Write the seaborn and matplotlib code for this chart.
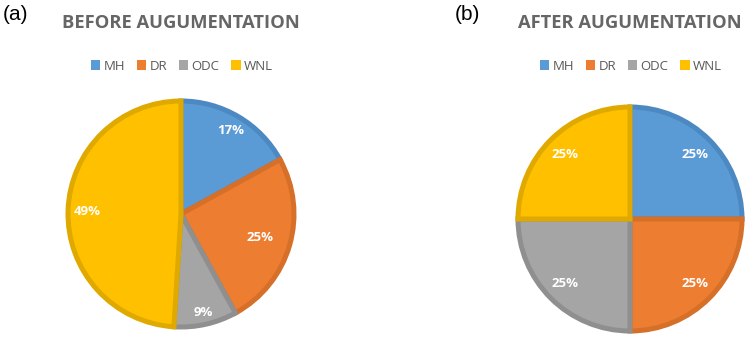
import numpy as np
import matplotlib
matplotlib.use("Agg")
import matplotlib.pyplot as plt
from matplotlib.patches import Patch
import seaborn as sns

classes = ["MH", "DR", "ODC", "WNL"]
before = [17, 25, 9, 49]
after = [25, 25, 25, 25]
titles = ["BEFORE AUGUMENTATION", "AFTER AUGUMENTATION"]
panel_tags = ["(a)", "(b)"]

sns.set_theme(style="white")
plt.rcParams["font.family"] = ["Open Sans", "DejaVu Sans"]

fill = sns.color_palette(["#5B9BD5", "#ED7D31", "#A5A5A5", "#FFC000"])
edge = sns.color_palette(["#4C88C2", "#D66F28", "#8F8F8F", "#E0A900"])

W, H = 747, 337
fig = plt.figure(figsize=(W / 100, H / 100), dpi=100)

lim = 1.04
# pie centre (px), radius (px), label distances per wedge
panels = [
    dict(vals=before, cx=181, cy=214, r=113, dist=[0.86, 0.73, 0.89, 0.83], tagx=3, legx=182),
    dict(vals=after, cx=630, cy=219, r=112, dist=[0.82, 0.82, 0.82, 0.82], tagx=455, legx=631),
]

for i, p in enumerate(panels):
    half = p["r"] * lim
    ax = fig.add_axes([(p["cx"] - half) / W, (H - p["cy"] - half) / H, 2 * half / W, 2 * half / H])
    wedges, _ = ax.pie(p["vals"], colors=fill, startangle=90, counterclock=False,
                       wedgeprops=dict(linewidth=3.6))
    for w, c in zip(wedges, edge):
        w.set_edgecolor(c)
    for w, v, d in zip(wedges, p["vals"], p["dist"]):
        ang = np.deg2rad((w.theta1 + w.theta2) / 2)
        ax.text(d * np.cos(ang), d * np.sin(ang), f"{v}%", ha="center", va="center",
                color="white", fontsize=9.5, fontweight="bold")
    ax.set_xlim(-lim, lim)
    ax.set_ylim(-lim, lim)
    ax.set_aspect("equal")
    ax.axis("off")

    fig.text(p["cx"] / W, 1 - 23 / H, titles[i], ha="center", va="center",
             fontsize=13.2, fontweight="bold", color="#666666")
    fig.text(p["tagx"] / W, 1 - 15 / H, panel_tags[i], ha="left", va="center",
             fontsize=15, color="black", family=["Liberation Sans", "DejaVu Sans"])
    handles = [Patch(facecolor=c, edgecolor="none", label=n) for c, n in zip(fill, classes)]
    fig.legend(handles=handles, loc="center", bbox_to_anchor=(p["legx"] / W, 1 - 66 / H),
               ncol=4, frameon=False, fontsize=9.5, handlelength=0.7, handleheight=0.7,
               handletextpad=0.25, columnspacing=0.9, labelcolor="#595959")

fig.savefig("out.png", dpi=100)
